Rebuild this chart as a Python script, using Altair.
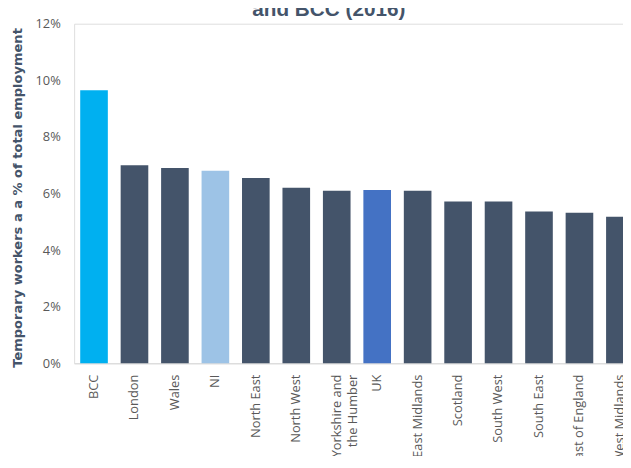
import altair as alt
import pandas as pd

categories = ["BCC", "London", "Wales", "NI", "North East", "North West",
              "Yorkshire and the Humber", "UK", "East Midlands", "Scotland",
              "South West", "South East", "East of England", "West Midlands"]
values_pct = [9.65, 7.0, 6.9, 6.8, 6.55, 6.2, 6.1, 6.12, 6.1, 5.72, 5.72, 5.36, 5.32, 5.18]
bar_colors = ["#00B0F0", "#44546A", "#44546A", "#9DC3E6", "#44546A", "#44546A",
              "#44546A", "#4472C4", "#44546A", "#44546A", "#44546A", "#44546A",
              "#44546A", "#44546A"]
y_ticks = [0, 0.02, 0.04, 0.06, 0.08, 0.10, 0.12]
title_text = "and BCC (2016)"
y_title = "Temporary workers a a % of total employment"

df = pd.DataFrame({"region": categories, "share": [v / 100 for v in values_pct]})

bars = alt.Chart(df).mark_bar().encode(
    x=alt.X("region:N", sort=categories,
            scale=alt.Scale(range=[0, 573], paddingInner=0.317, paddingOuter=0.15),
            axis=alt.Axis(title=None, labelAngle=270, labelAlign="right", labelBaseline="middle",
                          labelExpr="datum.label == 'Yorkshire and the Humber' ? ['Yorkshire and', 'the Humber'] : datum.label",
                          labelFont="Open Sans", labelFontSize=13, labelColor="#595959",
                          labelPadding=11, labelLineHeight=17, ticks=False, tickSize=0,
                          domainColor="#D9D9D9", domainWidth=1, grid=False, labelOverlap=False)),
    y=alt.Y("share:Q", scale=alt.Scale(domain=[0, 0.12], nice=False),
            axis=alt.Axis(values=y_ticks, format=".0%", labelFont="Open Sans", labelFontSize=13,
                          labelColor="#595959", ticks=False, tickSize=0, domain=False, grid=False,
                          labelPadding=14, title=y_title, titleFont="DejaVu Sans", titleFontSize=13.2,
                          titleFontWeight="bold", titleColor="#44546A", titleAngle=270,
                          titleX=-57, titleY=176, titleAlign="center", titleBaseline="middle")),
    color=alt.Color("region:N", scale=alt.Scale(domain=categories, range=bar_colors), legend=None),
)

title = alt.Chart(pd.DataFrame({"t": [title_text]})).mark_text(
    font="Liberation Sans", fontSize=21, fontWeight="bold", color="#44546A",
    align="center", baseline="alphabetic"
).encode(text="t:N", x=alt.value(258), y=alt.value(-8))

chart = alt.layer(bars, title).properties(
    width=556, height=344,
    padding={"left": 67, "top": 13, "right": 0, "bottom": 91},
    autosize=alt.AutoSizeParams(type="none"),
).configure_view(stroke=None).configure(background="white")

chart.save("out.html", embed_options={"renderer": "svg", "actions": False})
